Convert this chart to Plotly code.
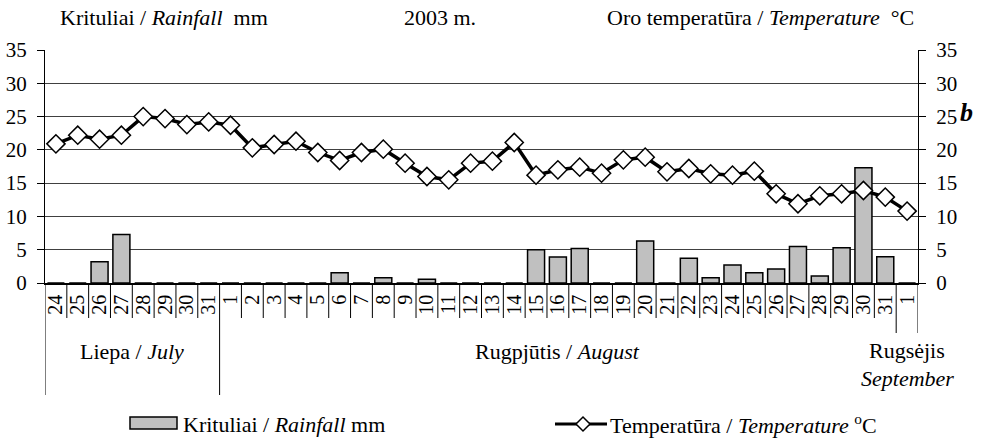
import plotly.graph_objects as go

# ---- data ----
days = ["24", "25", "26", "27", "28", "29", "30", "31",
        "1", "2", "3", "4", "5", "6", "7", "8", "9", "10", "11", "12", "13", "14", "15",
        "16", "17", "18", "19", "20", "21", "22", "23", "24", "25", "26", "27", "28", "29",
        "30", "31", "1"]
rainfall = [0, 0, 3.2, 7.3, 0, 0, 0, 0,
            0, 0, 0, 0, 0, 1.55, 0, 0.8, 0, 0.55, 0, 0, 0, 0, 5.0,
            3.9, 5.2, 0, 0, 6.3, 0, 3.7, 0.8, 2.7, 1.55, 2.1, 5.5, 1.05, 5.3,
            17.3, 3.95, 0]
temperature = [20.9, 22.2, 21.6, 22.2, 25.0, 24.7, 23.8, 24.2,
               23.7, 20.3, 20.8, 21.3, 19.6, 18.4, 19.6, 20.1, 18.0, 16.0, 15.5, 18.0, 18.3, 21.1, 16.2,
               17.0, 17.4, 16.5, 18.5, 18.9, 16.7, 17.2, 16.4, 16.2, 16.8, 13.4, 11.9, 13.1, 13.4,
               13.9, 12.9, 10.8]
months = [("Liepa / <i>July</i>", 0, 7),
          ("Rugpjūtis / <i>August</i>", 8, 38)]
sept_label = ("Rugsėjis", "<i>September</i>", 39)
yticks = [0, 5, 10, 15, 20, 25, 30, 35]

FONT = "Liberation Serif, Times New Roman, serif"
x = list(range(len(days)))

fig = go.Figure()
fig.add_trace(go.Bar(x=x, y=rainfall, width=0.78,
                     marker=dict(color="#c0c0c0", line=dict(color="black", width=1.5)),
                     name="Krituliai / <i>Rainfall</i> mm", showlegend=False))
fig.add_trace(go.Scatter(x=x, y=temperature, yaxis="y2", mode="lines+markers",
                         line=dict(color="black", width=3.5),
                         marker=dict(symbol="diamond", size=14, color="white",
                                     line=dict(color="black", width=1.5)),
                         name="Temperatūra / <i>Temperature</i> <sup>o</sup>C", showlegend=False))

FW, FH = 1001, 439
L, R, T, B = 45, 918, 50, 283
W, H = R - L, B - T
def py(p):
    return (B - p) / H
def px(p):
    return (p - L) / W

shapes = []
n = len(days)
for i in range(1, n):
    bottom = 318
    if i == 8:
        bottom = 395
    if i == n - 1:
        bottom = 333
    shapes.append(dict(type="line", xref="x", yref="paper", x0=i - 0.5, x1=i - 0.5,
                       y0=0, y1=py(bottom), line=dict(color="black", width=1)))
shapes.append(dict(type="line", xref="x", yref="paper", x0=-0.5, x1=-0.5,
                   y0=0, y1=py(395), line=dict(color="black", width=1)))
shapes.append(dict(type="line", xref="x", yref="paper", x0=n - 0.5, x1=n - 0.5,
                   y0=0, y1=py(333), line=dict(color="black", width=1)))

# custom legend
shapes.append(dict(type="rect", xref="paper", yref="paper", x0=px(130), x1=px(177),
                   y0=py(429), y1=py(417), fillcolor="#c0c0c0",
                   line=dict(color="black", width=1.5)))
shapes.append(dict(type="line", xref="paper", yref="paper", x0=px(555), x1=px(607),
                   y0=py(424), y1=py(424), line=dict(color="black", width=3)))
cx, cy, d = 583, 424, 7
shapes.append(dict(type="path", xref="paper", yref="paper",
                   path=f"M {px(cx-d)} {py(cy)} L {px(cx)} {py(cy-d)} L {px(cx+d)} {py(cy)} L {px(cx)} {py(cy+d)} Z",
                   fillcolor="white", line=dict(color="black", width=1.5)))

tf = dict(family=FONT, size=22, color="black")
ann = []
ann.append(dict(text="Krituliai / <i>Rainfall</i>  mm", xref="paper", yref="paper",
                x=px(58), y=py(17), xanchor="left", yanchor="middle", showarrow=False, font=tf))
ann.append(dict(text="2003 m.", xref="paper", yref="paper",
                x=px(402), y=py(17), xanchor="left", yanchor="middle", showarrow=False, font=tf))
ann.append(dict(text="Oro temperatūra / <i>Temperature</i>  °C", xref="paper", yref="paper",
                x=px(916), y=py(17), xanchor="right", yanchor="middle", showarrow=False, font=tf))
ann.append(dict(text="<b><i>b</i></b>", xref="paper", yref="paper",
                x=px(966), y=py(112), xanchor="center", yanchor="middle", showarrow=False,
                font=dict(family=FONT, size=26, color="black")))
for label, a, b in months:
    ann.append(dict(text=label, xref="x", yref="paper", x=(a + b) / 2, y=py(351),
                    xanchor="center", yanchor="middle", showarrow=False, font=tf))
ann.append(dict(text=sept_label[0], xref="x", yref="paper", x=sept_label[2], y=py(350),
                xanchor="center", yanchor="middle", showarrow=False, font=tf))
ann.append(dict(text=sept_label[1], xref="x", yref="paper", x=sept_label[2], y=py(378),
                xanchor="center", yanchor="middle", showarrow=False, font=tf))
ann.append(dict(text="Krituliai / <i>Rainfall</i> mm", xref="paper", yref="paper",
                x=px(181), y=py(424), xanchor="left", yanchor="middle", showarrow=False, font=tf))
ann.append(dict(text="Temperatūra / <i>Temperature</i> <sup>o</sup>C", xref="paper", yref="paper",
                x=px(608), y=py(424), xanchor="left", yanchor="middle", showarrow=False, font=tf))

yax = dict(range=[0, 35], tickvals=yticks, ticks="outside", ticklen=7, tickcolor="black",
           showline=True, linecolor="black", linewidth=1, tickfont=dict(family=FONT, size=21, color="black"),
           zeroline=False, fixedrange=True, ticklabelstandoff=6, automargin=False)

fig.update_layout(
    width=FW, height=FH,
    margin=dict(l=L, r=FW - R, t=T, b=FH - B, autoexpand=False),
    paper_bgcolor="white", plot_bgcolor="white",
    font=dict(family=FONT, color="black"),
    bargap=0.2, showlegend=False,
    xaxis=dict(range=[-0.5, n - 0.5], tickvals=x, ticktext=days, tickangle=-90,
               ticks="", showline=True, linecolor="black", linewidth=1.5,
               tickfont=dict(family=FONT, size=20, color="black"), showgrid=False,
               zeroline=False, ticklabelstandoff=2, automargin=False, fixedrange=True),
    yaxis=dict(**yax, showgrid=True, gridcolor="#404040", gridwidth=1),
    yaxis2=dict(**yax, overlaying="y", side="right", showgrid=False),
    shapes=shapes, annotations=ann,
)

fig.write_html("out.html", config={"displayModeBar": False},
               post_script="document.body.style.margin='0px';")
